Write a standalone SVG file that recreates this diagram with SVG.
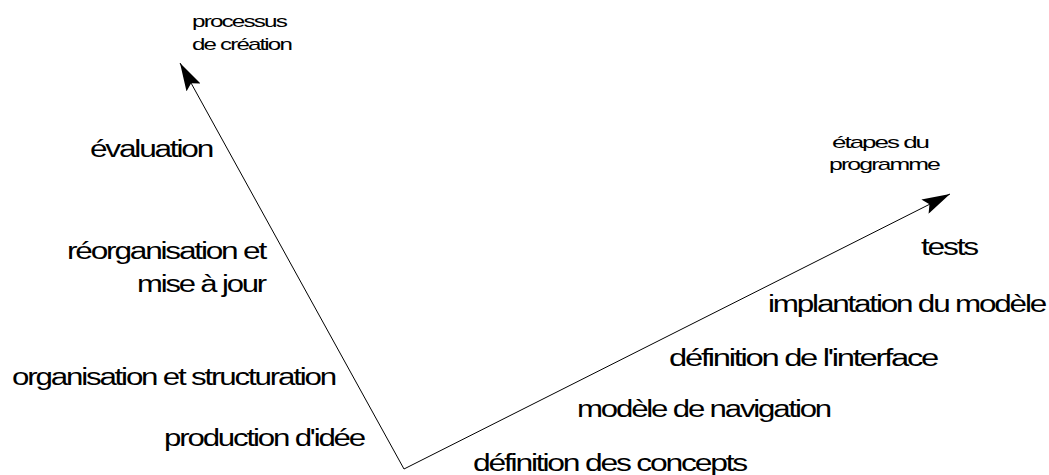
<svg xmlns="http://www.w3.org/2000/svg" width="1049" height="475" viewBox="0 0 1049 475">
<style>
text{font-family:"Liberation Sans",Arial,sans-serif;fill:#000;}
.s{font-size:17px;letter-spacing:-1.3px;}
.l{font-size:23px;letter-spacing:-1.6px;}
.ax{stroke:#000;stroke-width:1;fill:none;}
</style>
<defs>
<marker id="ah" markerUnits="userSpaceOnUse" viewBox="0 0 28 16" refX="28" refY="8" markerWidth="28" markerHeight="16" orient="auto">
<path d="M0,0 L28,8 L0,16 L5,8 z" fill="#000"/>
</marker>
</defs>
<rect width="1049" height="475" fill="#fff"/>
<g id="connectors">
<path class="ax" d="M404,469 L180,63" marker-end="url(#ah)"/>
<path class="ax" d="M404,469 L950,194" marker-end="url(#ah)"/>
</g>
<g id="axis-creation"><text class="s" x="192" y="27" textLength="94" lengthAdjust="spacingAndGlyphs">processus</text><text class="s" x="192" y="50" textLength="99" lengthAdjust="spacingAndGlyphs">de création</text></g>
<g id="axis-programme"><text class="s" x="832" y="148" textLength="96" lengthAdjust="spacingAndGlyphs">étapes du</text><text class="s" x="829" y="170" textLength="110" lengthAdjust="spacingAndGlyphs">programme</text></g>
<g id="evaluation"><text class="l" x="90" y="157" textLength="122" lengthAdjust="spacingAndGlyphs">évaluation</text></g>
<g id="reorganisation"><text class="l" x="67" y="259" textLength="198" lengthAdjust="spacingAndGlyphs">réorganisation et</text><text class="l" x="137" y="292" textLength="128" lengthAdjust="spacingAndGlyphs">mise à jour</text></g>
<g id="organisation"><text class="l" x="12" y="385" textLength="323" lengthAdjust="spacingAndGlyphs">organisation et structuration</text></g>
<g id="production"><text class="l" x="164" y="446" textLength="200" lengthAdjust="spacingAndGlyphs">production d'idée</text></g>
<g id="concepts"><text class="l" x="473" y="471" textLength="273" lengthAdjust="spacingAndGlyphs">définition des concepts</text></g>
<g id="navigation"><text class="l" x="577" y="417" textLength="253" lengthAdjust="spacingAndGlyphs">modèle de navigation</text></g>
<g id="interface"><text class="l" x="669" y="366" textLength="268" lengthAdjust="spacingAndGlyphs">définition de l'interface</text></g>
<g id="implantation"><text class="l" x="768" y="312" textLength="277" lengthAdjust="spacingAndGlyphs">implantation du modèle</text></g>
<g id="tests"><text class="l" x="921" y="255" textLength="56" lengthAdjust="spacingAndGlyphs">tests</text></g>
</svg>
